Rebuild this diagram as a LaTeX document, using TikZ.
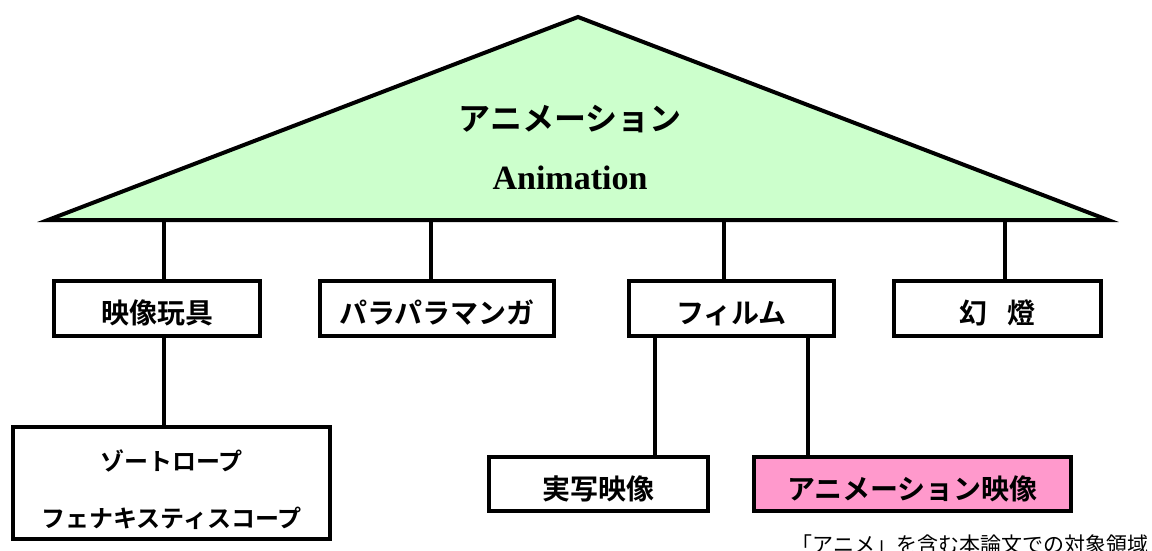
\documentclass[tikz,border=0pt]{standalone}
\usepackage{fontspec}
\newfontfamily\jpbold{Noto Sans CJK JP Bold}
\newfontfamily\jpreg{Noto Sans CJK JP}
\setmainfont{Liberation Serif}
\definecolor{tgreen}{HTML}{CCFFCC}
\definecolor{tpink}{HTML}{FF99CC}
\begin{document}
\begin{tikzpicture}[x=1pt, y=-1pt, line width=4pt,
  genre/.style={draw, fill=white, rectangle, inner sep=0pt, text height=33pt, text depth=2pt,
    font=\jpbold\fontsize{28}{32}\selectfont},
  branch/.style={line cap=butt}]
\useasboundingbox (0,0) rectangle (1152,551);

% umbrella
\coordinate (apex) at (578,17);
\coordinate (left) at (48,220);
\coordinate (right) at (1108,220);
\draw[fill=tgreen, line join=miter] (apex) -- (right) -- (left) -- cycle;
\node (anime) at (570,119) [font=\jpbold\fontsize{32}{36}\selectfont] {アニメーション};
\node (animation) at (570,178) [font=\bfseries\fontsize{34}{38}\selectfont] {Animation};

% first row
\node (toy) at (157,308) [genre, minimum width=206pt, minimum height=55pt] {映像玩具};
\node (flip) at (437,308) [genre, minimum width=234pt, minimum height=55pt] {パラパラマンガ};
\node (film) at (731.5,308) [genre, minimum width=205pt, minimum height=55pt] {フィルム};
\node (lantern) at (997.5,308) [genre, minimum width=207pt, minimum height=55pt] {幻\hspace{20pt}燈};

% second row
\node (zoe) at (171.5,483) [genre, minimum width=317pt, minimum height=112pt, align=center,
  text height=90pt, text depth=2pt, font=\jpbold\fontsize{24}{57}\selectfont] {ゾートロープ\\フェナキスティスコープ};
\node (live) at (598.5,483.5) [genre, minimum width=219pt, minimum height=54pt] {実写映像};
\node (cel) at (912.5,483.5) [genre, fill=tpink, minimum width=317pt, minimum height=54pt] {アニメーション映像};

\node (note) at (970,545) [font=\jpreg\fontsize{21}{24}\selectfont] {「アニメ」を含む本論文での対象領域};

% branches
\coordinate (t1) at (164,220);
\coordinate (t2) at (431,220);
\coordinate (t3) at (724,220);
\coordinate (t4) at (1005,220);
\draw[branch] (t1) -- (t1 |- toy.north);
\draw[branch] (t2) -- (t2 |- flip.north);
\draw[branch] (t3) -- (t3 |- film.north);
\draw[branch] (t4) -- (t4 |- lantern.north);
\coordinate (s1) at (164,337);
\coordinate (s2) at (655,337);
\coordinate (s3) at (808,337);
\draw[branch] (s1 |- toy.south) -- (s1 |- zoe.north);
\draw[branch] (s2 |- film.south) -- (s2 |- live.north);
\draw[branch] (s3 |- film.south) -- (s3 |- cel.north);
\end{tikzpicture}
\end{document}
